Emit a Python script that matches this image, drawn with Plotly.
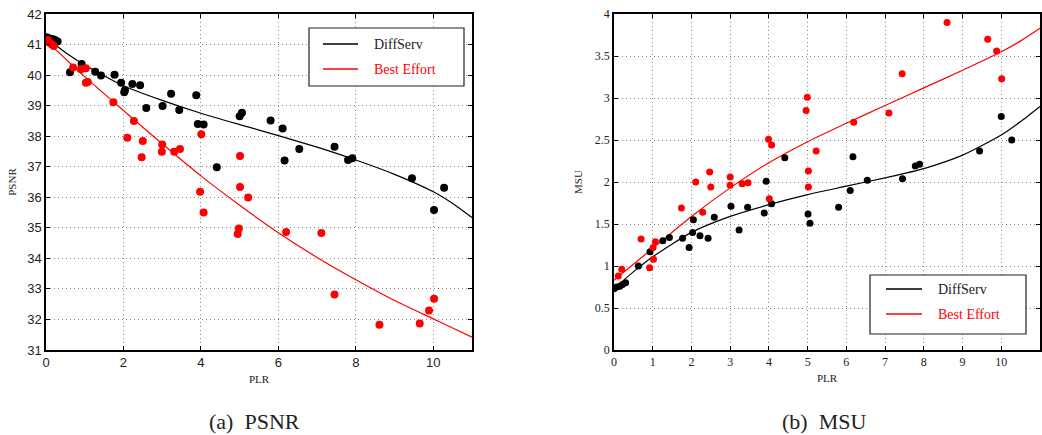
import plotly.graph_objects as go

# ---------------- PSNR vs PLR ----------------
psnr_ds_plr = [0.02, 0.10, 0.17, 0.23, 0.30, 0.62, 0.92, 1.27, 1.42, 1.77, 1.94, 2.02, 2.04,
               2.23, 2.43, 2.59, 3.01, 3.23, 3.44, 3.88, 3.92, 4.07, 4.41, 5.00, 5.06, 5.80,
               6.11, 6.16, 6.54, 7.45, 7.80, 7.91, 9.45, 10.02, 10.28]
psnr_ds_val = [41.24, 41.20, 41.18, 41.15, 41.10, 40.09, 40.36, 40.11, 39.99, 40.01, 39.75, 39.44, 39.51,
               39.71, 39.67, 38.92, 38.99, 39.39, 38.86, 39.34, 38.40, 38.38, 36.98, 38.65, 38.77, 38.51,
               38.25, 37.20, 37.58, 37.65, 37.22, 37.28, 36.62, 35.58, 36.31]

psnr_be_plr = [0.05, 0.10, 0.15, 0.20, 0.70, 0.90, 1.03, 1.03, 1.08, 1.74, 2.10, 2.27, 2.50, 2.47,
               3.00, 2.99, 3.31, 3.46, 4.01, 3.98, 4.07, 5.01, 5.01, 5.22, 4.98, 4.95, 6.20, 7.11,
               7.45, 8.61, 9.65, 9.89, 10.02]
psnr_be_val = [41.15, 41.05, 41.00, 40.95, 40.25, 40.19, 40.22, 39.75, 39.77, 39.11, 37.95, 38.50, 37.84, 37.31,
               37.73, 37.49, 37.49, 37.58, 38.06, 36.18, 35.50, 37.35, 36.34, 35.99, 34.98, 34.80, 34.86, 34.83,
               32.82, 31.83, 31.87, 32.29, 32.68]

# fitted trend curves
psnr_fit_plr = [0, 0.5, 1, 2, 3, 4, 5, 6, 7, 8, 9, 10, 10.5, 11]
psnr_fit_ds = [41.22, 40.74, 40.33, 39.65, 39.17, 38.75, 38.38, 38.02, 37.64, 37.22, 36.75, 36.18, 35.80, 35.34]
psnr_fit_be = [41.12, 40.54, 39.95, 38.84, 37.75, 36.70, 35.74, 34.84, 34.03, 33.30, 32.62, 32.02, 31.72, 31.42]

# ---------------- MSU vs PLR ----------------
msu_ds_plr = [0.00, 0.07, 0.15, 0.22, 0.30, 0.63, 0.93, 1.26, 1.43, 1.77, 1.94, 2.03, 2.05, 2.22,
              2.43, 2.59, 3.02, 3.23, 3.45, 3.88, 3.93, 4.07, 4.41, 5.01, 5.06, 5.80, 6.10, 6.17,
              6.54, 7.45, 7.78, 7.89, 9.44, 10.00, 10.27]
msu_ds_val = [0.73, 0.75, 0.76, 0.78, 0.80, 1.00, 1.17, 1.30, 1.34, 1.33, 1.22, 1.40, 1.55, 1.36,
              1.33, 1.58, 1.71, 1.43, 1.70, 1.63, 2.01, 1.74, 2.29, 1.62, 1.51, 1.70, 1.90, 2.30,
              2.02, 2.04, 2.19, 2.21, 2.37, 2.78, 2.50]

msu_be_plr = [0.11, 0.20, 0.70, 0.92, 1.01, 1.02, 1.07, 1.74, 2.11, 2.29, 2.50, 2.47, 3.00, 3.00,
              3.31, 3.46, 3.99, 4.07, 4.01, 4.99, 4.96, 5.22, 5.02, 5.02, 6.19, 7.10, 7.44, 8.60,
              9.65, 9.88, 10.01]
msu_be_val = [0.88, 0.96, 1.32, 0.98, 1.22, 1.08, 1.29, 1.69, 2.00, 1.64, 1.94, 2.12, 2.06, 1.96,
              1.98, 1.99, 2.51, 2.44, 1.80, 3.01, 2.85, 2.37, 2.13, 1.94, 2.71, 2.82, 3.29, 3.90,
              3.70, 3.56, 3.23]

msu_fit_plr = [0, 0.5, 1, 2, 3, 4, 5, 6, 7, 8, 9, 10, 10.5, 11]
msu_fit_ds = [0.73, 0.93, 1.11, 1.40, 1.59, 1.73, 1.85, 1.95, 2.05, 2.16, 2.32, 2.56, 2.72, 2.90]
msu_fit_be = [0.83, 1.02, 1.21, 1.59, 1.93, 2.23, 2.48, 2.70, 2.91, 3.12, 3.33, 3.55, 3.68, 3.83]

series_names = ["DiffServ", "Best Effort"]
series_colors = ["black", "red"]

psnr_yticks = [31, 32, 33, 34, 35, 36, 37, 38, 39, 40, 41, 42]
psnr_xticks = [0, 2, 4, 6, 8, 10]
msu_yticks = [0, 0.5, 1, 1.5, 2, 2.5, 3, 3.5, 4]
msu_xticks = [0, 1, 2, 3, 4, 5, 6, 7, 8, 9, 10, 11]

W, H = 1042, 435

def px_x(p):
    return p / W

def px_y(p):
    return 1 - p / H

fig = go.Figure()

# fitted curves
for xs, ys, col, ax, name in [
    (psnr_fit_plr, psnr_fit_ds, series_colors[0], ("x", "y"), series_names[0]),
    (psnr_fit_plr, psnr_fit_be, series_colors[1], ("x", "y"), series_names[1]),
    (msu_fit_plr, msu_fit_ds, series_colors[0], ("x2", "y2"), series_names[0]),
    (msu_fit_plr, msu_fit_be, series_colors[1], ("x2", "y2"), series_names[1]),
]:
    fig.add_trace(go.Scatter(x=xs, y=ys, mode="lines", xaxis=ax[0], yaxis=ax[1], name=name,
                             line=dict(color=col, width=1.2, shape="spline", smoothing=0.6),
                             showlegend=False))

# scatter points
for xs, ys, col, ax, sz in [
    (psnr_ds_plr, psnr_ds_val, series_colors[0], ("x", "y"), 8),
    (psnr_be_plr, psnr_be_val, series_colors[1], ("x", "y"), 8),
    (msu_ds_plr, msu_ds_val, series_colors[0], ("x2", "y2"), 7),
    (msu_be_plr, msu_be_val, series_colors[1], ("x2", "y2"), 7),
]:
    fig.add_trace(go.Scatter(x=xs, y=ys, mode="markers", xaxis=ax[0], yaxis=ax[1],
                             marker=dict(color=col, size=sz, line=dict(width=0)),
                             showlegend=False, hoverinfo="x+y"))

grid = dict(showgrid=True, gridcolor="#8a8a8a", griddash="1px,3px", gridwidth=1,
            showline=True, linecolor="black", linewidth=1.5, mirror="ticks",
            ticks="inside", ticklen=4, tickcolor="black", zeroline=False,
            automargin=False)

ydom = [px_y(350), px_y(14)]
sans = "Liberation Sans, Arial, sans-serif"
serif = "Liberation Serif, Times New Roman, serif"

fig.update_layout(
    width=W, height=H,
    margin=dict(l=0, r=0, t=0, b=0),
    paper_bgcolor="white", plot_bgcolor="white",
    xaxis=dict(domain=[px_x(46), px_x(472)], range=[0, 11], tickvals=psnr_xticks,
               tickfont=dict(family=sans, size=13, color="#222"),
               title=dict(text="PLR", font=dict(family=serif, size=11, color="#222"), standoff=6),
               anchor="y", **grid),
    yaxis=dict(domain=ydom, range=[31, 42], tickvals=psnr_yticks,
               tickfont=dict(family=sans, size=13, color="#222"),
               title=dict(text="PSNR", font=dict(family=serif, size=11, color="#222"), standoff=8),
               anchor="x", **grid),
    xaxis2=dict(domain=[px_x(614), px_x(1040)], range=[0, 11], tickvals=msu_xticks,
                tickfont=dict(family=serif, size=12, color="#222"),
                title=dict(text="PLR", font=dict(family=serif, size=11, color="#222"), standoff=6),
                anchor="y2", **grid),
    yaxis2=dict(domain=ydom, range=[0, 4], tickvals=msu_yticks,
                tickfont=dict(family=serif, size=12, color="#222"),
                title=dict(text="MSU", font=dict(family=serif, size=11, color="#222"), standoff=10),
                anchor="x2", **grid),
)

# legend boxes
legends = [
    # box x0, x1, y0, y1, line x0, x1, rows y, text x
    (309, 464, 28, 86, 323, 358, [44, 69], 372),
    (870, 1026, 275, 334, 886, 922, [289, 314], 936),
]
for bx0, bx1, by0, by1, lx0, lx1, rows, tx in legends:
    fig.add_shape(type="rect", xref="paper", yref="paper",
                  x0=px_x(bx0), x1=px_x(bx1), y0=px_y(by1), y1=px_y(by0),
                  line=dict(color="#222", width=1.2), fillcolor="white", layer="above")
    for name, col, ry in zip(series_names, series_colors, rows):
        fig.add_shape(type="line", xref="paper", yref="paper",
                      x0=px_x(lx0), x1=px_x(lx1), y0=px_y(ry), y1=px_y(ry),
                      line=dict(color=col, width=1.3), layer="above")
        fig.add_annotation(x=px_x(tx), y=px_y(ry), xref="paper", yref="paper",
                           text=name, showarrow=False, xanchor="left", yanchor="middle",
                           font=dict(family=serif, size=14, color=col if col == "red" else "#222"))

# sub-figure captions
for text, cx in [("(a)  PSNR", 254), ("(b)  MSU", 824)]:
    fig.add_annotation(x=px_x(cx), y=px_y(421), xref="paper", yref="paper", text=text,
                       showarrow=False, xanchor="center", yanchor="middle",
                       font=dict(family=serif, size=22, color="#222"))

fig.write_html("out.html")
